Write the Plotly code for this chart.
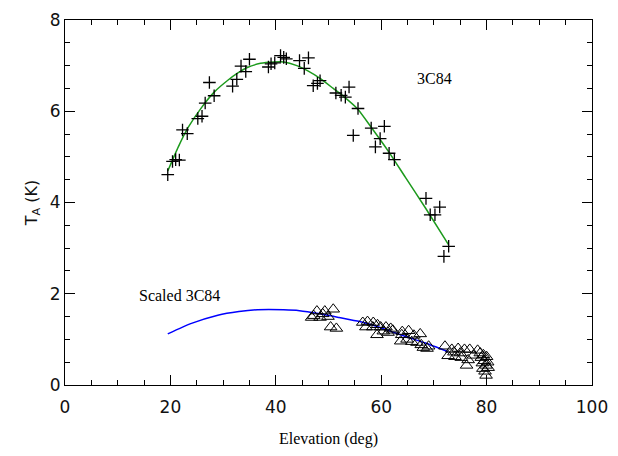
import plotly.graph_objects as go

# 3C84 antenna temperature measurements (plus markers)
elev_3c84 = [19.5, 20.4, 21.0, 21.7, 22.3, 23.2, 25.2, 26.0, 26.6, 27.4, 28.3,
             31.8, 32.6, 33.4, 34.3, 35.0, 38.6, 39.1, 39.8, 40.9, 41.5, 42.0,
             44.5, 45.4, 46.2, 47.1, 47.9, 48.4, 51.4, 52.4, 53.2, 53.9, 54.7,
             55.6, 58.1, 58.9, 59.8, 60.6, 61.5, 62.5, 68.5, 69.3, 70.2, 71.1,
             71.9, 72.8]
ta_3c84 = [4.61, 4.90, 4.94, 4.93, 5.59, 5.51, 5.84, 5.89, 6.18, 6.63, 6.34,
           6.55, 6.70, 6.99, 6.87, 7.14, 6.97, 7.04, 7.06, 7.22, 7.18, 7.15,
           7.11, 6.94, 7.17, 6.56, 6.61, 6.67, 6.40, 6.35, 6.31, 6.53, 5.47,
           6.06, 5.63, 5.22, 5.40, 5.67, 5.08, 4.94, 4.09, 3.73, 3.73, 3.90,
           2.82, 3.04]

# Fitted gain curve for 3C84
elev_fit = [19.5, 21.5, 23.4, 25.9, 28.4, 30.9, 32.8, 34.6, 37.1, 39.6, 41.5,
            44.0, 46.0, 48.4, 50.9, 52.8, 55.6, 58.1, 61.5, 64.6, 68.4, 72.8]
ta_fit = [4.69, 5.22, 5.65, 6.08, 6.43, 6.68, 6.84, 6.96, 7.05, 7.08, 7.08,
          7.00, 6.89, 6.72, 6.50, 6.33, 6.04, 5.65, 5.10, 4.55, 3.88, 3.07]

# Scaled 3C84 curve
elev_scaled = [19.5, 24.0, 29.0, 33.0, 36.5, 41.5, 44.5, 48.4, 52.0, 55.9,
               59.5, 62.7, 65.5, 68.4, 72.7]
ta_scaled = [1.12, 1.35, 1.53, 1.61, 1.65, 1.65, 1.63, 1.56, 1.48, 1.39,
             1.27, 1.14, 1.03, 0.92, 0.73]

# Other source measurements (triangle markers)
elev_tri = [46.8, 47.2, 47.8, 48.4, 48.9, 49.3, 49.9, 50.4, 50.9, 51.5,
            56.5, 57.1, 57.4, 58.4, 58.5, 59.2, 59.3, 59.9, 60.4, 60.9,
            61.3, 61.8, 62.2, 63.7, 63.9, 64.0, 64.9, 65.2, 65.8, 66.2,
            66.8, 67.4, 67.6, 68.0, 68.7, 69.0, 72.1, 72.7, 73.4, 73.8,
            74.0, 74.6, 75.0, 75.2, 75.8, 76.2, 76.5, 76.8, 77.5, 78.3,
            78.8, 79.0, 79.2, 79.3, 79.4, 79.6, 79.7, 79.9, 79.9, 80.0,
            80.2, 80.3]
ta_tri = [1.48, 1.52, 1.62, 1.48, 1.56, 1.62, 1.50, 1.27, 1.66, 1.24,
          1.37, 1.27, 1.39, 1.27, 1.37, 1.10, 1.32, 1.27, 1.18, 1.27,
          1.15, 1.24, 1.20, 0.96, 1.10, 1.17, 1.00, 1.19, 0.95, 1.09,
          0.93, 1.12, 0.88, 0.82, 0.80, 0.85, 0.85, 0.64, 0.78, 0.72,
          0.62, 0.80, 0.70, 0.60, 0.78, 0.43, 0.55, 0.78, 0.65, 0.76,
          0.70, 0.60, 0.48, 0.36, 0.66, 0.53, 0.30, 0.43, 0.21, 0.62,
          0.50, 0.38]

SERIF = "Times New Roman, Liberation Serif, serif"
SANS = "DejaVu Sans, sans-serif"

fig = go.Figure()

fig.add_trace(go.Scatter(x=elev_fit, y=ta_fit, mode="lines",
                         line=dict(color="#1c9a1c", width=1.5, shape="spline", smoothing=0.6)))
fig.add_trace(go.Scatter(x=elev_scaled, y=ta_scaled, mode="lines",
                         line=dict(color="#0000ff", width=1.5, shape="spline", smoothing=0.6)))
fig.add_trace(go.Scatter(x=elev_3c84, y=ta_3c84, mode="markers",
                         marker=dict(symbol="cross-thin-open", size=9, color="black",
                                     line=dict(color="black", width=1.3))))
fig.add_trace(go.Scatter(x=elev_tri, y=ta_tri, mode="markers",
                         marker=dict(symbol="triangle-up-open", size=11, color="black",
                                     line=dict(color="black", width=1))))

fig.add_annotation(x=70.2, y=6.72, text="3C84", showarrow=False,
                   font=dict(family=SERIF, size=16, color="black"))
fig.add_annotation(x=21.7, y=1.96, text="Scaled 3C84", showarrow=False,
                   font=dict(family=SERIF, size=16, color="black"))

tick_font = dict(family=SANS, size=17, color="#111")
axis_common = dict(showline=True, linecolor="black", linewidth=1, mirror="ticks",
                   ticks="inside", ticklen=10, tickcolor="black", tickwidth=1,
                   showgrid=False, zeroline=False, tickfont=tick_font)

fig.update_xaxes(range=[0, 100], tickvals=[0, 20, 40, 60, 80, 100],
                 ticklabelstandoff=7,
                 minor=dict(dtick=5, ticks="inside", ticklen=5, tickcolor="black", showgrid=False),
                 title=dict(text="Elevation (deg)", standoff=16,
                            font=dict(family=SERIF, size=16, color="black")),
                 **axis_common)
fig.update_yaxes(range=[0, 8], tickvals=[0, 2, 4, 6, 8],
                 minor=dict(dtick=0.5, ticks="inside", ticklen=5, tickcolor="black", showgrid=False),
                 title=dict(text="T<sub>A</sub> (K)", standoff=8,
                            font=dict(family=SANS, size=16, color="#111")),
                 **axis_common)

fig.update_layout(width=618, height=456, showlegend=False,
                  margin=dict(l=65, r=19, t=10, b=71),
                  plot_bgcolor="white", paper_bgcolor="white", hovermode=False)

fig.write_html("out.html")
